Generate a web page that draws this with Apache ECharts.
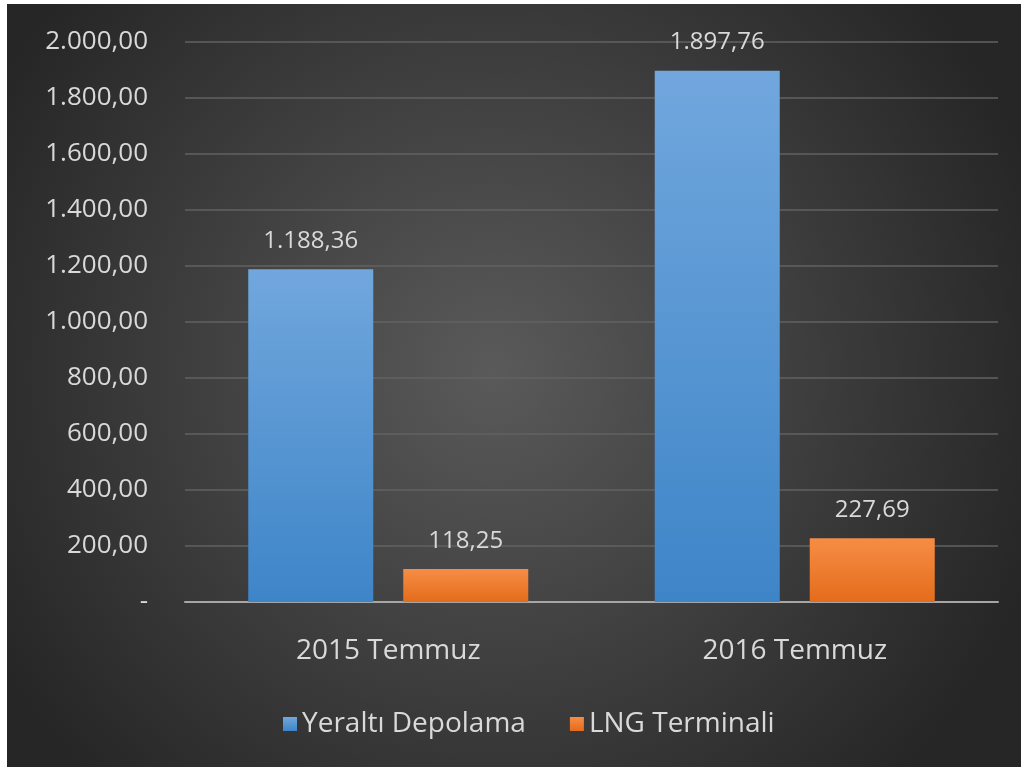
<!DOCTYPE html>
<html>
<head>
<meta charset="utf-8">
<script src="https://cdn.jsdelivr.net/npm/echarts@6/dist/echarts.min.js"></script>
<style>
body { margin: 0; background: #fff; }
#main { position: absolute; left: 7px; top: 4px; width: 1014px; height: 763px; }
</style>
</head>
<body>
<div id="main"></div>
<script>
// kategoriler ve seriler
var categories = ['2015 Temmuz', '2016 Temmuz'];
var seriesNames = ['Yeraltı Depolama', 'LNG Terminali'];
var yeralti = [1188.36, 1897.76];
var lng = [118.25, 227.69];

// 1234.5 -> "1.234,50"
function trFormat(v) {
	if (v === 0) return '-';
	var parts = v.toFixed(2).split('.');
	var intPart = parts[0].replace(/\B(?=(\d{3})+(?!\d))/g, '.');
	return intPart + ',' + parts[1];
}

var myChart = echarts.init(document.getElementById('main'));
var textColor = '#d9d9d9';
var fontFam = '"Open Sans", "Noto Sans", sans-serif';

var option = {
	backgroundColor: {
		type: 'radial', x: 0.48, y: 0.48, r: 0.75,
		colorStops: [
			{ offset: 0, color: '#5a5a5a' },
			{ offset: 1, color: '#262626' }
		]
	},
	textStyle: { fontFamily: fontFam },
	grid: { left: 178, right: 23, top: 38, bottom: 165 },
	legend: {
		bottom: 24,
		left: 271,
		itemWidth: 14, itemHeight: 14, itemGap: 44,
		icon: 'rect',
		textStyle: { color: textColor, fontSize: 28, fontFamily: fontFam },
		data: seriesNames
	},
	xAxis: {
		type: 'category',
		data: categories,
		axisLine: { lineStyle: { color: '#a6a6a6', width: 2 } },
		axisTick: { show: false },
		axisLabel: { color: textColor, fontSize: 28, margin: 35, fontFamily: fontFam }
	},
	yAxis: {
		type: 'value',
		min: 0, max: 2000, interval: 200,
		axisLine: { show: false },
		axisTick: { show: false },
		splitLine: { lineStyle: { color: '#626262', width: 1.5 } },
		axisLabel: {
			color: textColor, fontSize: 26, margin: 37, fontFamily: fontFam,
			formatter: trFormat
		}
	},
	series: [
		{
			name: seriesNames[0],
			type: 'bar',
			data: yeralti,
			barWidth: 125,
			barGap: '24%',
			itemStyle: {
				color: {
					type: 'linear', x: 0, y: 0, x2: 0, y2: 1,
					colorStops: [
						{ offset: 0, color: '#71a7dd' },
						{ offset: 1, color: '#3e85c8' }
					]
				}
			},
			label: {
				show: true, position: 'top', distance: 16,
				color: textColor, fontSize: 24, fontFamily: fontFam,
				formatter: function (p) { return trFormat(p.value); }
			}
		},
		{
			name: seriesNames[1],
			type: 'bar',
			data: lng,
			barWidth: 125,
			itemStyle: {
				color: {
					type: 'linear', x: 0, y: 0, x2: 0, y2: 1,
					colorStops: [
						{ offset: 0, color: '#f68d45' },
						{ offset: 1, color: '#e46c1b' }
					]
				}
			},
			label: {
				show: true, position: 'top', distance: 16,
				color: textColor, fontSize: 24, fontFamily: fontFam,
				formatter: function (p) { return trFormat(p.value); }
			}
		}
	]
};
myChart.setOption(option);
</script>
</body>
</html>
